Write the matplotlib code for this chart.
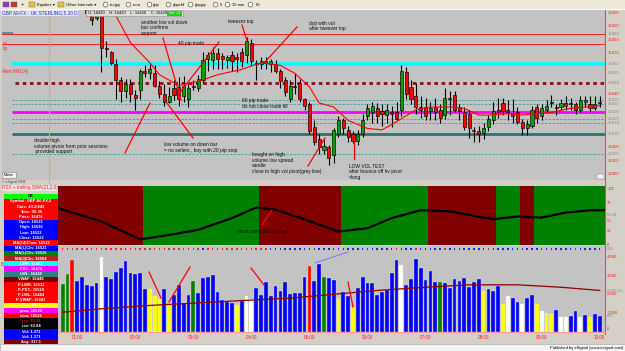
import matplotlib.pyplot as plt
from matplotlib.patches import Rectangle
import matplotlib.transforms as mtransforms
import numpy as np

W, H = 625, 351

# 5-min bars, 00:45 .. 10:00  (GBP A0-FX)
bar_open = [16512, 16510, 16514, 16509, 16507, 16506, 16500, 16496, 16503, 16474,
            16471, 16462, 16450, 16442, 16447, 16439, 16443, 16457, 16455, 16455,
            16446, 16440, 16434, 16444, 16445, 16438, 16436, 16446, 16444, 16450,
            16466, 16465, 16470, 16468, 16465, 16469, 16467, 16471, 16469, 16478,
            16463, 16462, 16464, 16462, 16462, 16457, 16450, 16436, 16446, 16448,
            16436, 16432, 16415, 16406, 16398, 16400, 16394, 16410, 16420, 16413,
            16410, 16405, 16410, 16423, 16426, 16429, 16427, 16424, 16426, 16426,
            16428, 16456, 16445, 16438, 16430, 16430, 16427, 16430, 16428, 16424,
            16436, 16439, 16430, 16426, 16425, 16413, 16412, 16411, 16415, 16420,
            16428, 16433, 16428, 16425, 16426, 16419, 16414, 16416, 16430, 16423,
            16428, 16434, 16430, 16430, 16433, 16432, 16432, 16428, 16434, 16432,
            16429, 16433]
bar_high = [16518, 16516, 16520, 16513, 16512, 16509, 16504, 16503, 16505, 16479,
            16472, 16466, 16452, 16451, 16451, 16443, 16458, 16461, 16462, 16461,
            16449, 16447, 16445, 16450, 16452, 16453, 16447, 16450, 16454, 16471,
            16471, 16475, 16474, 16470, 16469, 16472, 16470, 16474, 16482, 16481,
            16465, 16467, 16467, 16466, 16465, 16458, 16452, 16450, 16455, 16451,
            16437, 16434, 16420, 16410, 16406, 16402, 16414, 16423, 16422, 16416,
            16412, 16413, 16425, 16432, 16434, 16433, 16432, 16432, 16431, 16434,
            16461, 16460, 16450, 16448, 16438, 16437, 16434, 16437, 16432, 16444,
            16442, 16442, 16432, 16430, 16428, 16415, 16416, 16418, 16424, 16434,
            16437, 16437, 16435, 16436, 16430, 16421, 16420, 16431, 16432, 16432,
            16435, 16439, 16432, 16436, 16438, 16437, 16434, 16438, 16438, 16438,
            16438, 16438]
bar_low = [16506, 16505, 16508, 16504, 16503, 16498, 16491, 16495, 16456, 16467,
           16461, 16436, 16434, 16437, 16434, 16428, 16436, 16452, 16451, 16445,
           16437, 16431, 16433, 16435, 16431, 16434, 16430, 16443, 16442, 16448,
           16457, 16458, 16458, 16458, 16459, 16457, 16456, 16460, 16463, 16461,
           16450, 16458, 16458, 16456, 16455, 16444, 16438, 16434, 16440, 16434,
           16428, 16410, 16402, 16395, 16395, 16387, 16388, 16408, 16410, 16404,
           16403, 16402, 16408, 16420, 16418, 16418, 16416, 16418, 16415, 16420,
           16423, 16436, 16432, 16425, 16422, 16420, 16420, 16420, 16418, 16421,
           16424, 16426, 16420, 16413, 16407, 16404, 16404, 16406, 16412, 16417,
           16422, 16424, 16420, 16418, 16417, 16409, 16409, 16414, 16418, 16420,
           16426, 16430, 16424, 16428, 16428, 16428, 16425, 16426, 16430, 16427,
           16428, 16430]
bar_close = [16510, 16514, 16509, 16507, 16505, 16500, 16495, 16501, 16474, 16473,
             16463, 16450, 16442, 16447, 16440, 16437, 16457, 16455, 16458, 16446,
             16440, 16434, 16438, 16439, 16436, 16446, 16444, 16445, 16451, 16465,
             16469, 16470, 16466, 16466, 16467, 16464, 16466, 16464, 16479, 16464,
             16462, 16464, 16463, 16464, 16457, 16449, 16441, 16446, 16445, 16436,
             16431, 16412, 16404, 16400, 16401, 16392, 16413, 16420, 16414, 16408,
             16405, 16410, 16420, 16429, 16431, 16423, 16425, 16428, 16425, 16421,
             16457, 16440, 16436, 16430, 16428, 16423, 16429, 16426, 16422, 16437,
             16437, 16428, 16427, 16415, 16414, 16412, 16410, 16414, 16421, 16427,
             16426, 16427, 16426, 16423, 16419, 16414, 16417, 16428, 16422, 16429,
             16431, 16433, 16429, 16433, 16431, 16433, 16428, 16435, 16435, 16429,
             16432, 16434]

volume = [2540, 3090, 3790, 2670, 2930, 2490, 2440, 2610, 4000, 2930,
          2790, 3180, 3380, 3750, 3110, 3080, 3110, 2290, 2260, 1880,
          1740, 2290, 1420, 1940, 2490, 1530, 1940, 2720, 2060, 2840,
          2900, 3040, 2100, 1690, 1560, 1530, 1420, 1650, 1920, 1740,
          2330, 1960, 2630, 1880, 2420, 2150, 2630, 1990, 2040, 2080,
          2900, 3520, 2680, 3610, 2900, 2830, 2740, 1710, 2100, 1880,
          1330, 2310, 2900, 2580, 2580, 1960, 2130, 2190, 3110, 3800,
          3570, 2470, 2810, 3880, 3380, 2770, 3220, 2630, 2630, 2580,
          2330, 2790, 2720, 2860, 2380, 2630, 2790, 2150, 2280, 2150,
          2420, 1490, 1880, 1810, 1550, 1460, 1780, 1960, 1460, 1120,
          1010, 940, 1170, 750, 760, 820, 1080, 760, 890, 760,
          940, 840]
vol_kind = ("ggrbbbbbwb" "bbbbbbbbyy" "ybybbbbgbb" "bbbbbbybww" "bbbbbbbbbb"
            "brbbgbbybb" "ybbbbbbbbb" "wbbbbbbbgb" "bbbbbbbybb" "bywbbwbbyw"
            "yybwwbbwby" "bb")
dot_kind = ("rrrrrrrrrrrrrbrrrrrrrrrrrrrrrbrrrrrrrrrrrrr"
            "bbbbbbbbbbbbbbbbbbbbbbbbbbrbbbrbbbbbrbbbbbbbbrbbbbbbbbbbbbbbbbbrbbbbb")

vol_ma_bar = [0, 8, 18, 27, 37, 47, 55, 65, 75, 84, 94, 103, 111]
vol_ma = [1030, 1210, 1390, 1510, 1650, 1780, 1960, 2190, 2360, 2490, 2490, 2360, 2190]

ma_bar = [10, 11, 14, 18, 20, 24, 28, 32, 37, 41, 45, 48, 51, 53, 56, 59, 63, 66, 69,
          73, 76, 80, 83, 86, 88, 92, 95, 101, 105, 111]
ma_val = [16506, 16498, 16478, 16463, 16454, 16446, 16449, 16454, 16458, 16463, 16461,
          16455, 16445, 16433, 16430, 16420, 16414, 16413, 16419, 16428, 16430, 16430,
          16429, 16424, 16424, 16425, 16424, 16426, 16429, 16431]

rsx_bar = [-1, 8, 16, 22, 28, 35, 40, 44, 49, 53, 57, 63, 68, 74, 80, 89, 94, 99, 104, 109, 112]
rsx_val = [66, 42, 10, 18, 27, 48, 67, 63, 49, 36, 24, 30, 48, 62, 60, 46, 51, 49, 58, 62, 62]
band_edges = [-1, 16.5, 40.5, 57.5, 75.5, 89.5, 94.5, 97.5, 113]

lvl_red = [16484, 16477]
lvl_cyan = 16462
lvl_vwap = 16448
lvl_teal = [16435, 16432, 16421, 16418, 16395]
lvl_pdc = 16426
lvl_lwl = 16410

price_lab_red = [16500, 16490, 16480, 16470, 16440, 16400, 16390, 16380]
price_lab_grey = [16484, 16462, 16455, 16448, 16435, 16432, 16426, 16421, 16418, 16410, 16395]
time_labels = ["01:00", "02:00", "03:00", "04:00", "05:00",
               "06:00", "07:00", "08:00", "09:00", "10:00"]

table_rows = [("OK", "#00ff00", "black"), ("Symbol: GBP A0-FX,5", "red", "white"),
              ("Date: 4/12/449", "red", "white"), ("Time: 08:35", "red", "white"),
              ("Price: 16476", "red", "white"), ("Open: 16521", "blue", "white"),
              ("High: 16538", "blue", "white"), ("Low: 16522", "blue", "white"),
              ("Close: 16522", "blue", "white"), ("MA(14)Clow: 16526", "red", "white"),
              ("MA(L)Cln: 16521", "blue", "white"), ("MA(L)Cln: 16526", "#008000", "white"),
              ("MA(3)Cln: 16504", "#b22222", "white"), ("LWR: 16462", "cyan", "white"),
              ("PDC: 16478", "magenta", "white"), ("LWL: 16456", "#2f7f7f", "white"),
              ("VWAP: 16448", "#800000", "white"), ("P-LWR: 16532", "red", "white"),
              ("P-PDC: 16510", "red", "white"), ("P-LWL: 16484", "red", "white"),
              ("P-VWAP: 16502", "red", "white"), ("PL: 16437", "yellow", "white"),
              ("pma: 16526", "magenta", "white"), ("ema: 16526", "red", "white"),
              ("rsx: 63.21", "black", "red"), ("rsx: 63.84", "black", "white"),
              ("Vol: 1,371", "blue", "white"), ("Vol: 1,371", "blue", "white"),
              ("Avg: 317.1", "#800000", "white")]

plt.rcParams['font.family'] = ['Liberation Sans', 'DejaVu Sans']
BG = '#c3c3c3'
X0, DX = 62.7, 4.838   # screen x of first bar, bar spacing (px)


def bar_at(px):
    return (px - X0) / DX


def panel(x0, y0, x1, y1, z=1):
    a = fig.add_axes([x0 / W, 1 - y1 / H, (x1 - x0) / W, (y1 - y0) / H], zorder=z)
    a.set_facecolor(BG)
    a.set_xlim(bar_at(x0), bar_at(x1))
    a.set_xticks([])
    a.set_yticks([])
    for s in a.spines.values():
        s.set_visible(False)
    return a


def right_label(a, y, s, col):
    tr = mtransforms.blended_transform_factory(a.transAxes, a.transData)
    a.text(1.004, y, s, transform=tr, fontsize=3.1, color=col, va='center',
           ha='left', clip_on=False)


fig = plt.figure(figsize=(W / 100, H / 100), dpi=100)
fig.patch.set_facecolor('#d4d0c8')
n = len(bar_open)
x = np.arange(n)

# ---------------- price panel ----------------
ax = panel(2, 10, 605, 180)
ax.set_ylim(16500 - (180 - 13) / 1.343, 16500 + 3 / 1.343)
gx, gy = np.meshgrid(np.arange(3, n, 4), np.arange(16380, 16501, 10))
ax.scatter(gx.ravel(), gy.ravel(), s=0.15, color='#7a7a7a', marker='s', lw=0, zorder=1)
xl = bar_at(12)
for p in lvl_red:
    ax.axhline(p, color='#ff2020', lw=0.7, zorder=2)
ax.hlines(lvl_cyan, xl, n + 1, color='#00ffff', lw=2.6, zorder=2)
ax.hlines(lvl_vwap, bar_at(15), n + 1, color='#8b1010', lw=2.0, linestyles=(0, (1.3, 1.3)), zorder=2)
for p in lvl_teal:
    ax.hlines(p, xl, n + 1, color='#4f9a9a', lw=0.6, linestyles=(0, (3, 1.5)), zorder=2)
ax.hlines(lvl_pdc, xl, n + 1, color='#ff00ff', lw=2.0, zorder=2)
ax.hlines(lvl_lwl, xl, n + 1, color='#2f7272', lw=2.0, zorder=2)

o, hi, lo, c = map(np.array, (bar_open, bar_high, bar_low, bar_close))
body_col = np.where(c > o, '#00a000', np.where(c < o, '#ff0000', '#303030'))
ax.vlines(x, lo, hi, color='black', lw=0.8, zorder=3)
ax.bar(x, np.maximum(np.abs(c - o), 0.7), bottom=np.minimum(o, c), width=0.64,
       color=body_col, edgecolor='black', lw=0.45, zorder=4)
ax.plot(ma_bar, ma_val, color='#ff0000', lw=0.8, zorder=5)
for p in price_lab_red:
    right_label(ax, p, str(p), '#ff2020')
for p in price_lab_grey:
    right_label(ax, p, str(p), '#8a8a8a')

# ---------------- RSX panel ----------------
ar = panel(58, 186, 605, 245, z=2)
ar.set_ylim(0, (245 - 186) / 0.56)
widths = np.diff(band_edges)
band_col = ['#800000' if k % 2 == 0 else '#008000' for k in range(len(widths))]
ar.bar(band_edges[:-1], 200, width=widths, align='edge', color=band_col, lw=0, zorder=1)
rx, ry = np.meshgrid(np.arange(3, n, 4), [25, 50, 75])
ar.scatter(rx.ravel(), ry.ravel(), s=0.15, color='#9a9a9a', marker='s', lw=0, zorder=2)
for v, s in [(100, '100'), (75, '75'), (43, '50'), (25, '25'), (0, '0')]:
    right_label(ar, v, s, '#ff2020')
right_label(ar, 53.5, '50.04', '#8a8a8a')
# rsx curve on its own transparent layer above the bands
arl = fig.add_axes(ar.get_position(), zorder=3)
arl.set_xlim(ar.get_xlim())
arl.set_ylim(ar.get_ylim())
arl.axis('off')
arl.plot(rsx_bar, rsx_val, color='black', lw=1.6)

# ---------------- volume panel ----------------
av = panel(58, 246, 605, 331.5)
av.set_ylim(0, (331.5 - 246) / 0.01875)
vx, vy = np.meshgrid(np.arange(3, n, 4), [1000, 2000, 3000, 4000])
av.scatter(vx.ravel(), vy.ravel(), s=0.15, color='#7a7a7a', marker='s', lw=0, zorder=1)
cmap = {'g': '#008000', 'r': '#ff0000', 'b': '#0000ff', 'w': '#ffffff', 'y': '#ffff00'}
av.bar(x, volume, width=0.78, color=[cmap[k] for k in vol_kind],
       edgecolor='#e8e8c8', lw=0.25, zorder=2)
av.plot(vol_ma_bar, vol_ma, color='#8b0000', lw=0.9, zorder=3)
av.scatter(x, np.full(n, 4400), s=1.2, marker='s', lw=0, zorder=3,
           c=['#ff2020' if k == 'r' else '#2020ff' for k in dot_kind])
for v, s in [(4000, '4,000'), (3000, '3,000'), (2000, '2,000'), (1000, '1,000'), (130, '0')]:
    right_label(av, v, s, '#ff2020')
for v, s in [(2186.51, '2,186.51'), (831, '831'), (4400, '831')]:
    right_label(av, v, s, '#8a8a8a')
tr = mtransforms.blended_transform_factory(av.transData, av.transAxes)
for k, s in enumerate(time_labels):
    av.text(3 + 12 * k, -0.045, s, transform=tr, fontsize=3.3, color='#ff2020',
            ha='center', va='top', clip_on=False)

# ---------------- screen furniture / annotations ----------------
ov = fig.add_axes([0, 0, 1, 1], zorder=10)
ov.set_xlim(0, W)
ov.set_ylim(H, 0)
ov.axis('off')
ov.patch.set_alpha(0)

ov.add_patch(Rectangle((0, 0), W, 9, fc='#ece9d8', ec='none'))
ov.plot([0, W], [9.3, 9.3], color='white', lw=0.8)
for x0, col in [(3, '#9933cc'), (11, '#cc3333'), (29, '#e8c040'), (58, '#e8c040')]:
    ov.add_patch(Rectangle((x0, 2), 6, 5, fc=col, ec='#606060', lw=0.3))
ov.text(22.5, 4.6, '+', fontsize=4, ha='center', va='center')
tool = [(37, 'Equities \u25be', None), (66, 'Other Intervals \u25be', None),
        (110, 'eurjpy', 105.5), (133, 'euro', 128.5), (153, 'gbp', 149.5),
        (173, 'gbpchf', 168.5), (195, 'gbpjpy', 190.5), (220, '5', 215.5),
        (232, '15 min', 227.5), (256, '60', 250.5)]
for tx, s, cx in tool:
    ov.text(tx, 4.8, s, fontsize=3.0, va='center', ha='left', color='black')
    if cx is not None:
        ov.add_patch(plt.Circle((cx, 4.6), 2.4, fc='white', ec='#404040', lw=0.4))

ov.text(2, 13.2, 'GBP A0-FX - UK STERLING,5 20 D', fontsize=3.4, color='#2030d0',
        va='center', bbox=dict(fc='#e4e4f0', ec='none', pad=0.4))
ov.add_patch(Rectangle((86, 10.3), 97, 6, fc='#dcdcdc', ec='#909090', lw=0.4))
ov.text(88, 13.3, 'O: 16420    H: 16420    L: 16420    C: 16420', fontsize=3.0, va='center')
ov.add_patch(Rectangle((167, 10.8), 15, 5, fc='#20d020', ec='none'))
ov.text(174.5, 13.3, 'Vol: +2', fontsize=2.6, ha='center', va='center', color='white')

ov.add_patch(Rectangle((2, 31.8), 11, 2.2, fc='#4f9a9a', ec='none'))
ov.text(3, 43, 'sp', fontsize=3.3, color='#ff2020', va='center')
ov.text(3, 48.5, 'hp', fontsize=3.3, color='#ff2020', va='center')
ov.text(2, 71.5, 'Alert MA(14)', fontsize=3.3, color='#ff2020', va='center')
ov.plot([49.3, 49.3], [10, 183], color='#d8a0a0', lw=0.8)
ov.add_patch(Rectangle((2, 172), 14, 6, fc='#f0f0f0', ec='#808080', lw=0.4))
ov.text(9, 175, 'Mains', fontsize=2.6, ha='center', va='center')
ov.text(2, 182, '\u00a9 eSignal 2008', fontsize=2.4, va='center', color='#404040')
ov.add_patch(Rectangle((597, 174), 7, 5, fc='#f0f0f0', ec='#808080', lw=0.3))

ov.text(2, 187.8, 'RSX + trailing SMA(21,2,0)', fontsize=3.3, color='#ff2020', va='center',
        bbox=dict(fc='#e4e4e4', ec='none', pad=0.3))
ov.text(1, 265, 'B', fontsize=3.3, color='#ff2020', va='center')

for k, (s, bg, fg) in enumerate(table_rows):
    y0 = 193.5 + k * 5.2
    ov.add_patch(Rectangle((4, y0), 54, 5.2, fc=bg, ec='none'))
    ov.text(31, y0 + 2.7, s, fontsize=2.9, color=fg, ha='center', va='center',
            fontweight='bold')

ov.plot([605, 605], [10, 334], color='#ff4040', lw=0.8)
ov.plot([58, 605], [331.8, 331.8], color='#ff9090', lw=0.6)
ov.add_patch(Rectangle((0, 344), W, 7, fc='#f4f4f4', ec='#a0a0a0', lw=0.4))
ov.text(623, 347.5, 'Published by eSignal (www.esignal.com)', fontsize=3.0,
        ha='right', va='center')

red_lines = [((163, 38), (181, 100)), ((167, 103), (193, 138)), ((125, 153), (150, 103)),
             ((178, 95), (219, 42)), ((265, 62), (297, 27)), ((242, 25), (247, 41)),
             ((308, 166), (325, 138)), ((354, 141), (354, 159)), ((262, 225), (272, 210)),
             ((149, 272), (161, 298)), ((169, 302), (190, 267)), ((251, 268), (264, 285)),
             ((348, 282), (353, 307))]
for (xa, ya), (xb, yb) in red_lines:
    ov.plot([xa, xb], [ya, yb], color='#ff0000', lw=0.9)
ov.plot([315, 348], [263, 252], color='#6a6aff', lw=0.6)

notes = [(141, 19.5, "another low vol down\nbar confirms\nsupport"),
         (178, 41, "40 pip trade"),
         (228, 18.5, "tweezer top"),
         (309, 20.5, "doji with vol\nafter tweezer top"),
         (242, 98, "60 pip trade\ndo not close trade till"),
         (34, 138, "double high\nvolume pivots form prior sessions\n provided support"),
         (164, 142, "low volume on down bar\n= no sellers , buy with 20 pip stop"),
         (252, 152, "bought on high\nvolume low spread\ncandle\nclose to high vol pivot(grey line)"),
         (349, 163.5, "LOW VOL TEST\nafter bounce off hv pivot\n=long"),
         (237, 229, "short confirmed by rsx")]
for tx, ty, s in notes:
    ov.text(tx, ty, s, fontsize=3.5, va='top', ha='left', color='#101010', linespacing=1.15)

fig.savefig('out.png', dpi=100, facecolor=fig.get_facecolor())
